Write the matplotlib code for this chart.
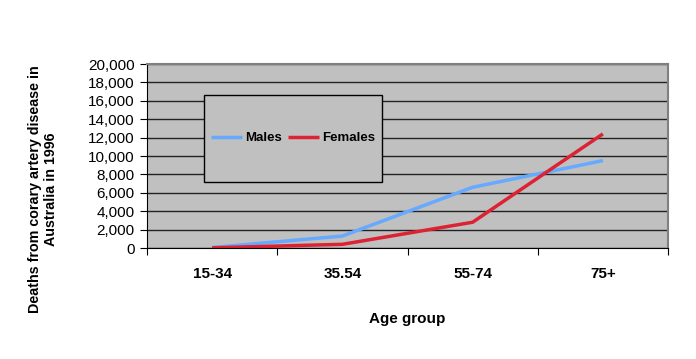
import matplotlib.pyplot as plt
from matplotlib.patches import Rectangle
from matplotlib.ticker import FuncFormatter

plt.rcParams['font.family'] = ['Liberation Sans', 'DejaVu Sans']

# data
age_groups = ["15-34", "35.54", "55-74", "75+"]
males = [50, 1300, 6600, 9500]
females = [20, 400, 2800, 12400]

fig = plt.figure(figsize=(6.96, 3.59), dpi=100)
ax = fig.add_axes([147 / 696, 1 - 248 / 359, (668 - 147) / 696, (248 - 64) / 359])

x = range(len(age_groups))
ax.plot(x, males, color="#66aaff", lw=2.5, label="Males", solid_capstyle="butt")
ax.plot(x, females, color="#dd2233", lw=2.5, label="Females", solid_capstyle="butt")

ax.set_facecolor("#c0c0c0")
ax.set_xlim(-0.5, len(age_groups) - 0.5)
ax.set_ylim(0, 20000)
ax.set_yticks(range(0, 20001, 2000))
ax.yaxis.set_major_formatter(FuncFormatter(lambda v, p: f"{int(v):,}"))
ax.grid(axis="y", color="#222222", lw=1)
ax.set_axisbelow(True)

# category ticks between groups, labels centred
ax.set_xticks([i - 0.5 for i in range(len(age_groups) + 1)])
ax.set_xticklabels([])
ax.set_xticks(list(x), minor=True)
ax.set_xticklabels(age_groups, minor=True, fontweight="bold", fontsize=11)
ax.tick_params(axis="x", which="minor", length=0, pad=14)
ax.tick_params(axis="x", which="major", length=5, direction="out")
ax.tick_params(axis="y", length=5, direction="out", labelsize=11, pad=4)

for s in ["top", "right"]:
    ax.spines[s].set_color("#808080")
    ax.spines[s].set_linewidth(1.5)
for s in ["left", "bottom"]:
    ax.spines[s].set_color("black")

ax.set_xlabel("Age group", fontweight="bold", fontsize=11, labelpad=22)
ax.set_ylabel("Deaths from corary artery disease in\nAustralia in 1996",
              fontweight="bold", fontsize=10.3, labelpad=18)
ax.yaxis.set_label_coords(-0.17, 0.32)

# legend box drawn separately so its shape matches the original
box = Rectangle(((204 - 147) / 521, 1 - (182 - 64) / 184), (382 - 204) / 521, 87 / 184,
                transform=ax.transAxes, facecolor="#c0c0c0", edgecolor="black",
                lw=1, zorder=4)
ax.add_patch(box)
leg = ax.legend(ncol=2, loc="center", bbox_to_anchor=((293 - 147) / 521, 1 - (138 - 64) / 184),
                frameon=False, handlelength=2.3, columnspacing=0.5, handletextpad=0.25,
                borderaxespad=0, prop={"weight": "bold", "size": 9.5})
leg.set_zorder(5)

fig.savefig("out.png", dpi=100)
